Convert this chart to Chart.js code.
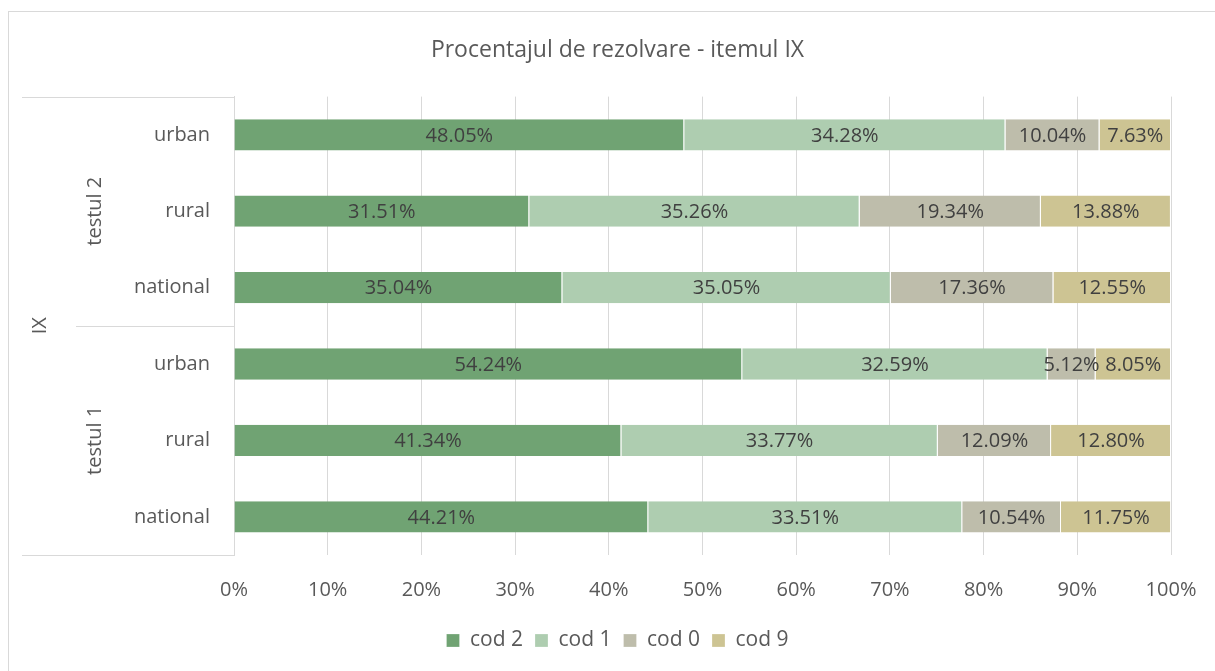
<!DOCTYPE html>
<html>
<head>
<meta charset="utf-8">
<script src="https://cdn.jsdelivr.net/npm/chart.js@4.4.1/dist/chart.umd.min.js"></script>
<style>
  html, body { margin: 0; padding: 0; background: #fff; }
  #wrap { width: 1215px; height: 671px; position: relative; }
</style>
</head>
<body>
<div id="wrap"><canvas id="chart" width="1215" height="671"></canvas></div>
<script>
// categorii (de sus in jos)
const categorii = ["urban", "rural", "national", "urban", "rural", "national"];
const grupe = ["testul 2", "testul 1"];
const nivelSuperior = "IX";

const cod2 = [48.05, 31.51, 35.04, 54.24, 41.34, 44.21];
const cod1 = [34.28, 35.26, 35.05, 32.59, 33.77, 33.51];
const cod0 = [10.04, 19.34, 17.36, 5.12, 12.09, 10.54];
const cod9 = [7.63, 13.88, 12.55, 8.05, 12.8, 11.75];

const xTicks = [0, 10, 20, 30, 40, 50, 60, 70, 80, 90, 100];

const FONT = "'Open Sans', 'Noto Sans', sans-serif";
const TEXT = "#595959";

// etichete de date in centrul fiecarui segment
const eticheteDate = {
  id: "eticheteDate",
  afterDatasetsDraw(chart) {
    const ctx = chart.ctx;
    ctx.save();
    ctx.font = "20px " + FONT;
    ctx.fillStyle = "#404040";
    ctx.textAlign = "center";
    ctx.textBaseline = "middle";
    chart.data.datasets.forEach((ds, i) => {
      const meta = chart.getDatasetMeta(i);
      meta.data.forEach((bar, j) => {
        const cx = (bar.x + bar.base) / 2;
        ctx.fillText(ds.data[j].toFixed(2) + "%", cx, bar.y + 1);
      });
    });
    ctx.restore();
  },
};

// axa pe mai multe niveluri + chenar
const axaMultipla = {
  id: "axaMultipla",
  afterDraw(chart) {
    const ctx = chart.ctx;
    const area = chart.chartArea;
    ctx.save();
    ctx.strokeStyle = "#d9d9d9";
    ctx.lineWidth = 1;
    // chenar exterior
    ctx.strokeRect(8.5, 11.5, 1300, 800);

    const step = (area.bottom - area.top) / categorii.length;
    const mid = area.top + step * 3;
    ctx.beginPath();
    ctx.moveTo(22, Math.round(area.top) + 0.5);
    ctx.lineTo(area.left, Math.round(area.top) + 0.5);
    ctx.moveTo(76, Math.round(mid) + 0.5);
    ctx.lineTo(area.left, Math.round(mid) + 0.5);
    ctx.moveTo(22, Math.round(area.bottom) + 0.5);
    ctx.lineTo(area.left, Math.round(area.bottom) + 0.5);
    ctx.stroke();

    ctx.fillStyle = TEXT;
    ctx.font = "20px " + FONT;
    ctx.textAlign = "center";
    ctx.textBaseline = "middle";
    grupe.forEach((g, k) => {
      const cy = area.top + step * (3 * k + 1.5);
      ctx.save();
      ctx.translate(95, cy);
      ctx.rotate(-Math.PI / 2);
      ctx.fillText(g, 0, 0);
      ctx.restore();
    });
    ctx.save();
    ctx.translate(40, mid);
    ctx.rotate(-Math.PI / 2);
    ctx.fillText(nivelSuperior, 0, 0);
    ctx.restore();
    ctx.restore();
  },
};

new Chart(document.getElementById("chart").getContext("2d"), {
  type: "bar",
  data: {
    labels: categorii,
    datasets: [
      { label: "cod 2", data: cod2, backgroundColor: "#70a373" },
      { label: "cod 1", data: cod1, backgroundColor: "#aecdb0" },
      { label: "cod 0", data: cod0, backgroundColor: "#bebdab" },
      { label: "cod 9", data: cod9, backgroundColor: "#cdc493" },
    ].map((d) => ({ ...d, barPercentage: 0.41, categoryPercentage: 1, borderWidth: { right: 1 }, borderColor: "#ffffff" })),
  },
  options: {
    indexAxis: "y",
    responsive: false,
    animation: false,
    layout: { padding: { left: 64, right: 44, top: 0, bottom: 10 } },
    plugins: {
      title: {
        display: true,
        text: "Procentajul de rezolvare - itemul IX",
        color: TEXT,
        font: { family: FONT, size: 23, weight: "normal" },
        padding: { top: 37, bottom: 32 },
      },
      legend: {
        position: "bottom",
        labels: {
          color: TEXT,
          font: { family: FONT, size: 21 },
          boxWidth: 13,
          boxHeight: 13,
          padding: 12,
        },
      },
      tooltip: { enabled: false },
    },
    scales: {
      x: {
        stacked: true,
        min: 0,
        max: 100,
        afterBuildTicks(scale) {
          scale.ticks = xTicks.map((v) => ({ value: v }));
        },
        afterFit(scale) {
          scale.height = 63;
          scale.paddingRight = 0;
          scale.paddingLeft = 0;
        },
        ticks: {
          color: TEXT,
          font: { family: FONT, size: 20 },
          padding: 23,
          callback: (v) => v + "%",
        },
        grid: { color: "#d9d9d9", drawTicks: false },
        border: { display: false },
      },
      y: {
        stacked: true,
        afterFit(scale) {
          scale.width = 234 - 64;
        },
        ticks: {
          color: TEXT,
          font: { family: FONT, size: 20 },
          padding: 16,
        },
        grid: { display: false },
        border: { display: true, color: "#d9d9d9" },
      },
    },
  },
  plugins: [eticheteDate, axaMultipla],
});
</script>
</body>
</html>
